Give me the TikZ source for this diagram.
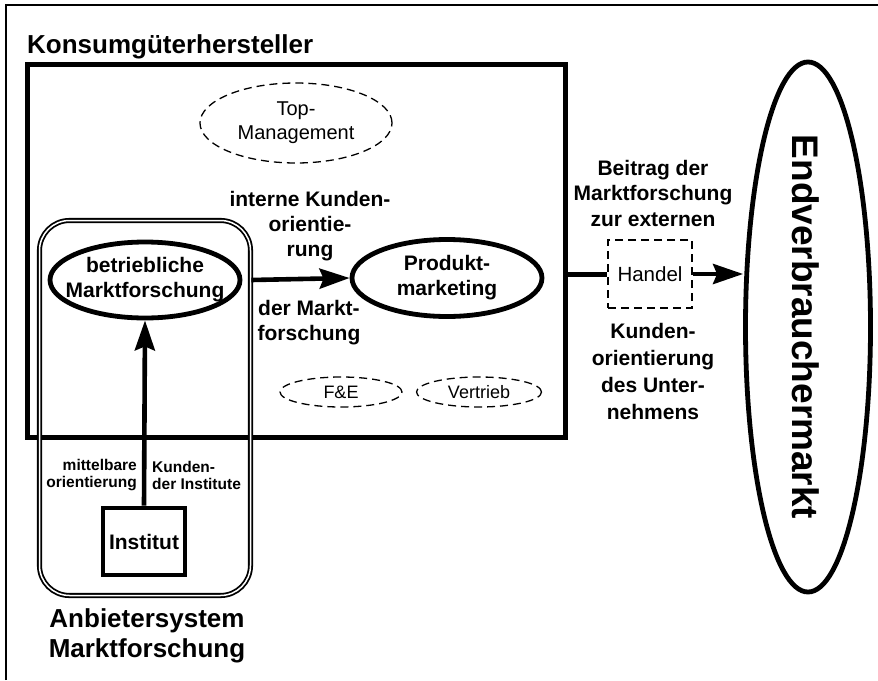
\documentclass[tikz,border=0pt]{standalone}
\usepackage{fontspec}
\setmainfont{Liberation Sans}
\usetikzlibrary{arrows.meta,shapes.geometric}

\tikzset{
  thickline/.style={line width=5pt},
  bigarrow/.style={line width=4.6pt,-{Stealth[length=30pt,width=20pt,inset=4pt]}},
  solidell/.style={ellipse,draw,line width=4.8pt,inner sep=0pt},
  dashell/.style={ellipse,draw,line width=1.3pt,dash pattern=on 8pt off 5pt,inner sep=0pt},
  lbl/.style={font=\fontsize{21}{25}\selectfont\bfseries,align=center,inner sep=0pt},
  smalllbl/.style={font=\fontsize{15.5}{17}\selectfont\bfseries,inner sep=0pt},
  plain/.style={font=\fontsize{20}{24}\selectfont,align=center,inner sep=0pt},
}

\begin{document}
\begin{tikzpicture}[x=1pt,y=-1pt]
  \useasboundingbox (0,0) rectangle (878,680);

  % frame edges
  \draw[line width=1.2pt] (6,680) -- (6,5) -- (878,5);

  % company box
  \node[draw,thickline,minimum width=538pt,minimum height=373pt,inner sep=0pt]
    (firm) at (296,250.5) {};
  \node[anchor=base west,inner sep=0pt,font=\fontsize{26}{30}\selectfont\bfseries]
    (firmtitle) at (27,53) {Konsumgüterhersteller};

  % market research supplier system
  \node[draw,double,line width=1.8pt,double distance=1.5pt,rounded corners=30pt,
        minimum width=211pt,minimum height=375pt,inner sep=0pt]
    (supplier) at (145,408) {};
  \node[lbl,font=\fontsize{26}{30}\selectfont\bfseries] (suppliertitle) at (147,636)
    {Anbietersystem\\Marktforschung};

  % internal units
  \node[dashell,minimum width=192pt,minimum height=80pt,plain] (top) at (296,123)
    {Top-\\Management};
  \node[solidell,minimum width=190pt,minimum height=76pt] (mafo) at (145,280) {};
  \node[lbl] (mafotext) at (mafo.center) {betriebliche\\Marktforschung};
  \node[solidell,minimum width=190pt,minimum height=77pt] (pm) at (447,278) {};
  \node[lbl] (pmtext) at (pm.center) {Produkt-\\marketing};
  \node[dashell,minimum width=122pt,minimum height=30pt,font=\fontsize{18}{20}\selectfont]
    (fue) at (341,392) {F\&E};
  \node[dashell,minimum width=125pt,minimum height=30pt,font=\fontsize{18}{20}\selectfont]
    (vertrieb) at (479,392) {Vertrieb};

  % institute
  \node[draw,line width=4.6pt,minimum width=82pt,minimum height=67pt,inner sep=0pt,
        font=\fontsize{21}{25}\selectfont\bfseries] (inst) at (144,541.5) {Institut};

  % trade and end consumer market
  \node[draw,line width=1.3pt,dash pattern=on 8pt off 5pt,minimum width=84pt,
        minimum height=68pt,inner sep=0pt,font=\fontsize{20.5}{24}\selectfont]
    (handel) at (650,274) {Handel};
  \node[solidell,minimum width=125pt,minimum height=530pt] (endmarkt) at (808,327) {};
  \node[rotate=-90,inner sep=0pt,font=\fontsize{37}{40}\selectfont\bfseries]
    (endlabel) at (806,327) {Endverbrauchermarkt};

  % connectors
  \draw[bigarrow] (inst.north) -- (mafo.south);
  \draw[bigarrow] (supplier.east |- mafo.east) -- (pm.west);
  \draw[thickline] (firm.east |- handel.west) -- (handel.west);
  \draw[bigarrow] (handel.east) -- (endmarkt.west |- handel.east);

  % connector labels
  \node[lbl] (intern) at (310,226) {interne Kunden-\\orientie-\\rung};
  \node[lbl] (intern2) at (309,323) {der Markt-\\forschung};
  \node[lbl,font=\fontsize{21}{25.5}\selectfont\bfseries] (extern) at (653,193)
    {Beitrag der\\Marktforschung\\zur externen};
  \node[lbl,font=\fontsize{21}{27}\selectfont\bfseries] (extern2) at (653,371)
    {Kunden-\\orientierung\\des Unter-\\nehmens};
  \node[smalllbl,align=right,anchor=east] (mittel) at (137,475)
    {mittelbare\\orientierung};
  \node[smalllbl,align=left,anchor=west] (mittel2) at (152,475)
    {Kunden-\\der Institute};
\end{tikzpicture}
\end{document}
